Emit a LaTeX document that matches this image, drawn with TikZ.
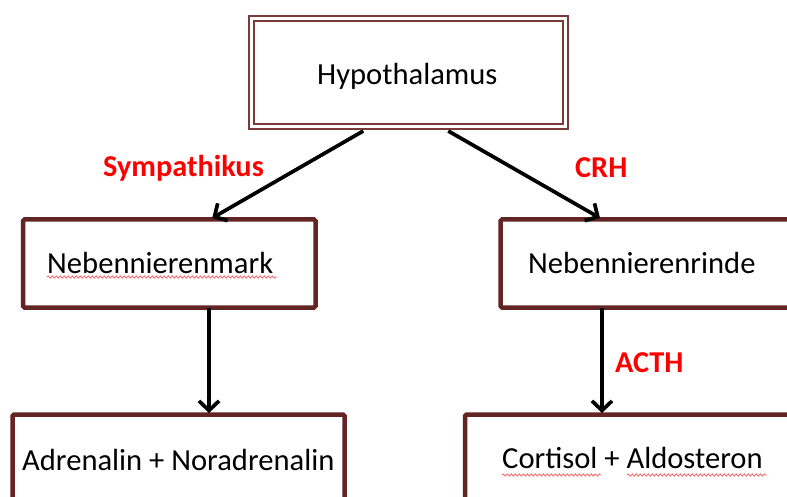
\documentclass[tikz,border=0pt]{standalone}
\usepackage{fontspec}
\setmainfont{Carlito}
\usetikzlibrary{arrows.meta,calc,decorations.pathmorphing}
\definecolor{boxcol}{HTML}{632523}
\definecolor{hypcol}{HTML}{7A3A3A}
\definecolor{lblred}{HTML}{FF0000}
\definecolor{squig}{HTML}{F07070}
\tikzset{
  box/.style={draw=boxcol, line width=4.5pt, rounded corners=1.5pt, fill=white, inner sep=0pt, outer sep=0pt},
  hypbox/.style={draw=hypcol, double=white, line width=2pt, double distance=3pt, inner sep=0pt, outer sep=0pt},
  txt/.style={font=\fontsize{30.6}{36}\selectfont, text=black, inner sep=0pt, anchor=base west},
  lbl/.style={font=\fontsize{30.3}{36}\selectfont\bfseries, text=lblred, inner sep=0pt, anchor=base west},
  arr/.style={draw=black, line width=3.7pt, -{Straight Barb[length=9.5pt,width=20pt,line width=3.7pt]}},
  wavy/.style={draw=squig, line width=0.9pt, decorate, decoration={snake, amplitude=1.1pt, segment length=4pt}}
}
\begin{document}
\begin{tikzpicture}[x=1pt,y=-1pt]
\useasboundingbox (0,0) rectangle (787,497);
\clip (0,0) rectangle (787,497);
\fill[white] (0,0) rectangle (787,497);
% boxes
\node[hypbox, minimum width=313.5pt, minimum height=108pt] (hyp) at (408.25,73) {};
\node[box, minimum width=292.5pt, minimum height=88pt] (nnm) at (169.25,263.5) {};
\node[box, minimum width=309.5pt, minimum height=88pt] (nnr) at (655.25,263.5) {};
\node[box, minimum width=332pt, minimum height=105.5pt] (adr) at (178.5,467.25) {};
\node[box, minimum width=345pt, minimum height=105.5pt] (cort) at (637.5,467.25) {};
% texts
\node[txt] (thyp) at (317,85) {Hypothalamus};
\node[txt] (tnnm) at (47,273) {Nebennierenmark};
\node[txt] (tnnr) at (528,273) {Nebennierenrinde};
\node[txt] (tadr) at (22,470) {Adrenalin + Noradrenalin};
\node[txt] (tcort) at (502,468) {Cortisol + Aldosteron};
% labels
\node[lbl] (lsym) at (103,177) {Sympathikus};
\node[lbl] (lcrh) at (575,178) {CRH};
\node[lbl] (lacth) at (615,372) {ACTH};
% connectors
\draw[arr] ($(hyp.south)+(-45,4)$) -- ($(nnm.north)+(43,-1.5)$);
\draw[arr] ($(hyp.south)+(40,4)$) -- ($(nnr.north)+(-55.25,-1.5)$);
\draw[arr] ($(nnm.south)+(39.75,0)$) -- ($(adr.north)+(30.5,-1.5)$);
\draw[arr] ($(nnr.south)+(-53.25,0)$) -- ($(cort.north)+(-35.5,-1.5)$);
% spell-check underlines
\draw[wavy] ($(tnnm.base west)+(0,4)$) -- ($(tnnm.base east)+(4,4)$);
\draw[wavy] ($(tcort.base west)+(0,7)$) -- ($(tcort.base west)+(99,7)$);
\draw[wavy] ($(tcort.base west)+(125,7)$) -- ($(tcort.base east)+(4,7)$);
\end{tikzpicture}
\end{document}
